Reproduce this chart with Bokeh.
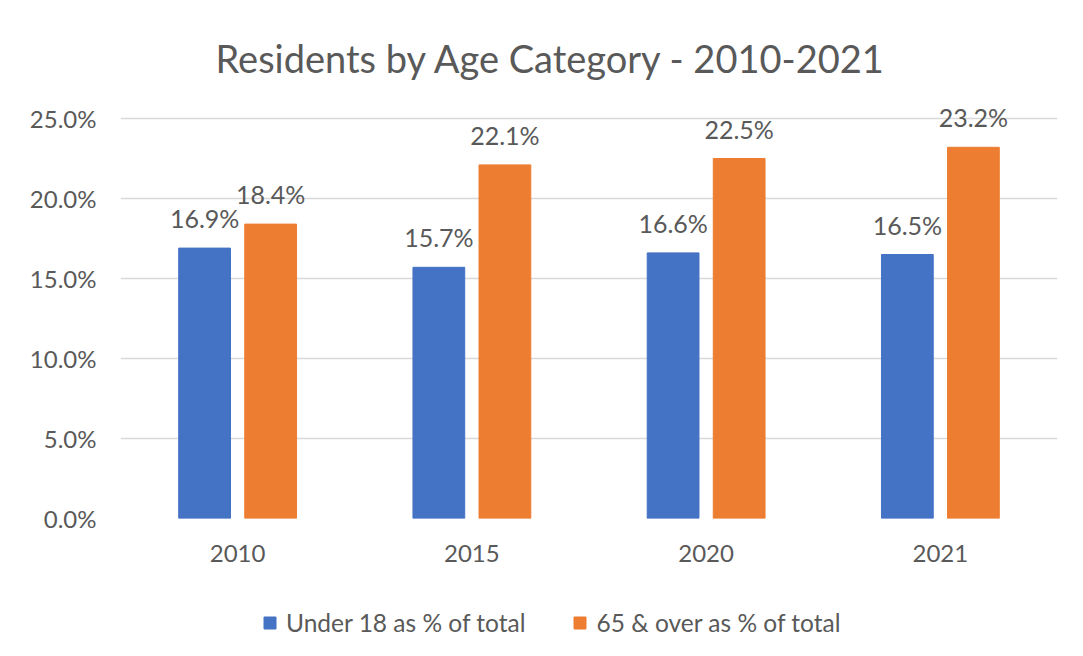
from bokeh.plotting import figure
from bokeh.layouts import column
from bokeh.models import (FactorRange, Range1d, FixedTicker, CustomJSTickFormatter,
                          Legend, LegendItem, ColumnDataSource)
from bokeh.transform import dodge
from bokeh.embed import file_html
from bokeh.resources import INLINE
from bokeh.core.properties import value

years = ["2010", "2015", "2020", "2021"]
under18 = [16.9, 15.7, 16.6, 16.5]
over65 = [18.4, 22.1, 22.5, 23.2]
y_ticks = [0, 5, 10, 15, 20, 25]
series_names = ["Under 18 as % of total", "65 & over as % of total"]
title_text = "Residents by Age Category - 2010-2021"

FONT = "Lato"
GRAY = "#595959"
BLUE = "#4472C4"
ORANGE = "#ED7D31"

src = ColumnDataSource(dict(
    year=years, u18=under18, o65=over65,
    u18_lbl=[f"{v:.1f}%" for v in under18],
    o65_lbl=[f"{v:.1f}%" for v in over65],
))

# ---- main chart ----
p = figure(width=1083, height=600, x_range=FactorRange(*years, range_padding=0),
           y_range=Range1d(0, 26.125), output_backend="svg", toolbar_location=None,
           min_border_left=120, min_border_right=26, min_border_top=100,
           min_border_bottom=82, title=title_text)
p.outline_line_color = None
p.background_fill_color = "white"
p.border_fill_color = "white"

p.title.text_font = FONT
p.title.text_font_size = "38px"
p.title.text_font_style = "normal"
p.title.text_color = GRAY
p.title.align = "left"
p.title.offset = 95
p.title.standoff = 40

p.vbar(x=dodge("year", -0.141, range=p.x_range), top="u18", width=0.221,
       source=src, fill_color=BLUE, line_color=BLUE)
p.vbar(x=dodge("year", 0.141, range=p.x_range), top="o65", width=0.221,
       source=src, fill_color=ORANGE, line_color=ORANGE)

p.text(x=dodge("year", -0.141, range=p.x_range), y="u18", text="u18_lbl", source=src,
       text_font=value(FONT), text_font_size="25px", text_color=GRAY,
       text_align="center", text_baseline="alphabetic", y_offset=-30)
p.text(x=dodge("year", 0.141, range=p.x_range), y="o65", text="o65_lbl", source=src,
       text_font=value(FONT), text_font_size="25px", text_color=GRAY,
       text_align="center", text_baseline="alphabetic", y_offset=-30)

p.yaxis.ticker = FixedTicker(ticks=y_ticks)
p.yaxis.formatter = CustomJSTickFormatter(code="return tick.toFixed(1) + '%';")
for ax in (p.xaxis, p.yaxis):
    ax.axis_line_color = None
    ax.major_tick_line_color = None
    ax.minor_tick_line_color = None
    ax.major_label_text_font = FONT
    ax.major_label_text_font_size = "24px"
    ax.major_label_text_color = GRAY
p.yaxis.major_label_standoff = 18
p.xaxis.major_label_standoff = 20
p.xgrid.grid_line_color = None
p.ygrid.ticker = FixedTicker(ticks=y_ticks)
p.ygrid.grid_line_color = "#D9D9D9"
p.ygrid.grid_line_width = 1.5

# ---- legend strip ----
lg = figure(width=1083, height=56, x_range=Range1d(0, 1), y_range=Range1d(0, 1),
            output_backend="svg", toolbar_location=None,
            x_axis_type=None, y_axis_type=None, min_border=0)
lg.title.visible = False
lg.outline_line_color = None
lg.xgrid.visible = False
lg.ygrid.visible = False
lg.background_fill_color = "white"
lg.border_fill_color = "white"
# off-range dummy bars: they only lend their colours to the legend keys
e1 = lg.vbar(x=[-5], top=[-5], width=0.1, fill_color=BLUE, line_color=BLUE)
e2 = lg.vbar(x=[-5], top=[-5], width=0.1, fill_color=ORANGE, line_color=ORANGE)
legend = Legend(items=[LegendItem(label=series_names[0], renderers=[e1]),
                       LegendItem(label=series_names[1], renderers=[e2])],
                location=(142, 19), orientation="horizontal",
                glyph_width=15, glyph_height=15, label_standoff=9, spacing=47,
                padding=0, margin=0, border_line_alpha=0, background_fill_alpha=0,
                label_text_font=FONT, label_text_font_size="24.5px",
                label_text_color=GRAY, label_height=26)
lg.add_layout(legend)

layout = column(p, lg, spacing=0)
open("out.html", "w").write(file_html(layout, INLINE))
